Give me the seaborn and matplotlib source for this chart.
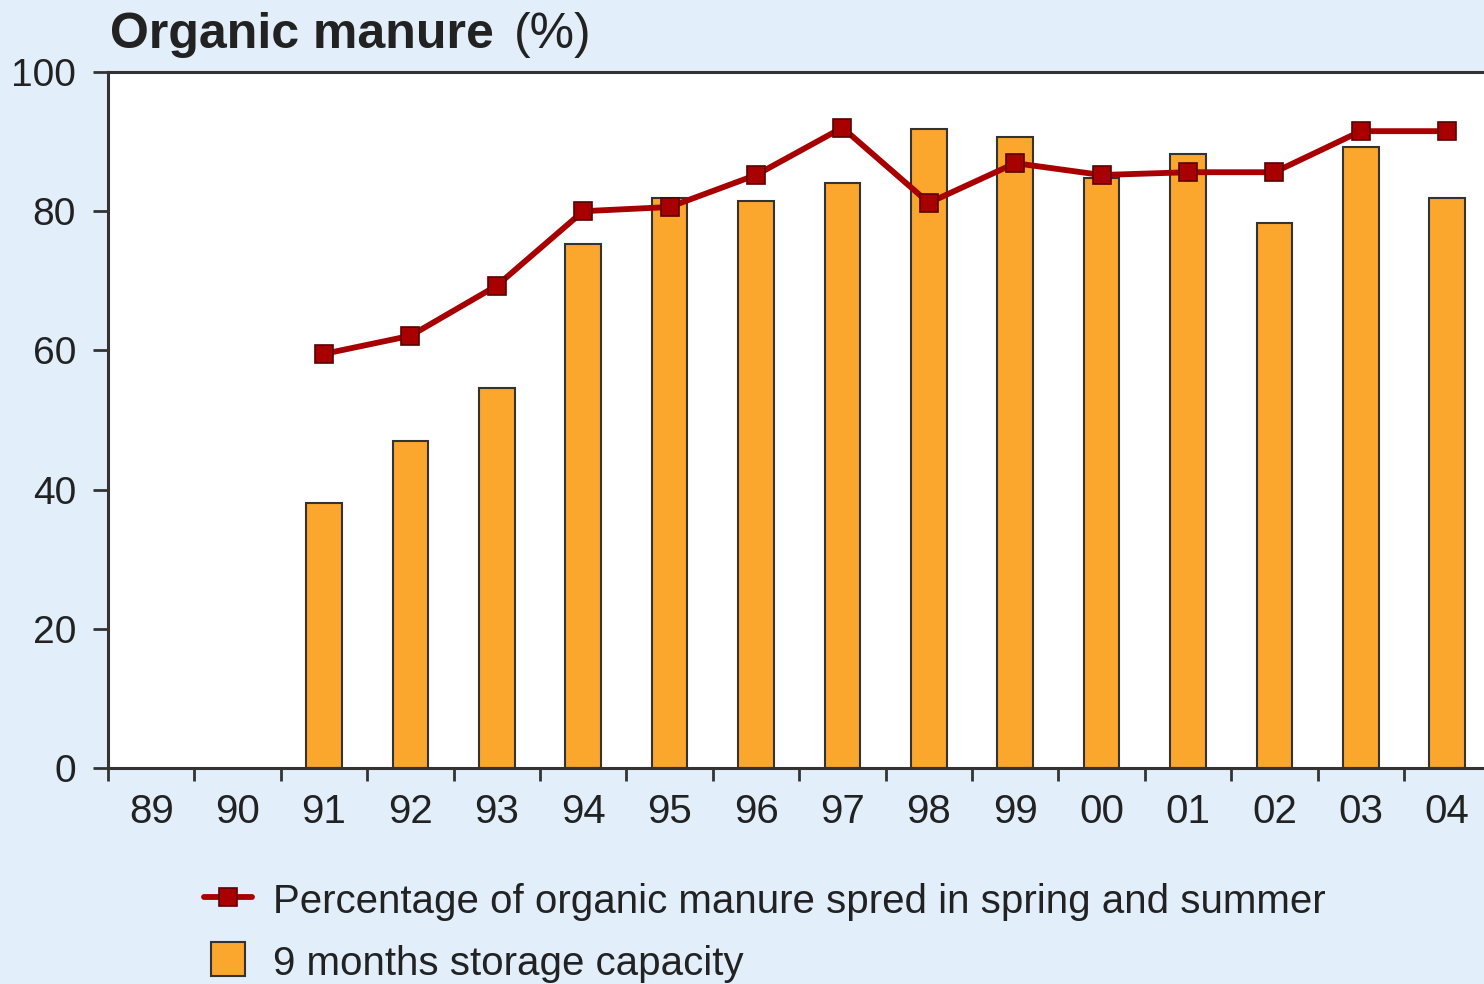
import numpy as np, pandas as pd
import seaborn as sns
import matplotlib.pyplot as plt
from matplotlib.lines import Line2D

years = ['89', '90', '91', '92', '93', '94', '95', '96', '97', '98', '99', '00', '01', '02', '03', '04']
storage = [np.nan, np.nan, 38.1, 47.0, 54.6, 75.3, 81.9, 81.5, 84.1, 91.8, 90.7, 84.8, 88.2, 78.3, 89.2, 81.9]
spread = [np.nan, np.nan, 59.5, 62.1, 69.3, 80.0, 80.6, 85.2, 92.0, 81.2, 86.9, 85.2, 85.6, 85.6, 91.5, 91.5]

bg = '#e2eefa'
orange = '#fba62c'
red = '#a80000'
dark = '#333333'

sns.set_style('white')
plt.rcParams['font.family'] = ['Liberation Sans', 'DejaVu Sans']

df = pd.DataFrame(dict(year=years, storage=storage, spread=spread))

fig = plt.figure(figsize=(14.84, 9.84), dpi=100, facecolor=bg)
ax = fig.add_axes([108/1484, 216/984, 1376/1484, 696/984])
ax.set_facecolor('white')

sns.barplot(data=df, x='year', y='storage', order=years, color=orange, width=0.41,
            saturation=1, edgecolor=dark, linewidth=1.5, ax=ax)
ax.plot(np.arange(len(years)), df.spread, color=red, lw=4.2, marker='s', ms=12.5,
        mec='#5a0000', mew=1.2, zorder=5)

ax.set_yticks(range(0, 101, 20))
ax.tick_params(axis='y', direction='out', length=11, width=2, color=dark,
               labelsize=28, labelcolor='#222222', pad=12, left=True)
ax.set_xticks(np.arange(-0.5, 15, 1))
ax.set_xticklabels([])
ax.set_xticks(np.arange(len(years)), minor=True)
ax.set_xticklabels(years, minor=True)
ax.tick_params(axis='x', which='major', direction='out', length=9, width=2, color=dark, bottom=True)
ax.tick_params(axis='x', which='minor', length=0, labelsize=29, labelcolor='#222222', pad=18)
# limits after ticks so set_xticks can't widen them
ax.set_xlim(-0.5, -0.5 + 1376/86.4)
ax.set_ylim(0, 100)
ax.set_xlabel('')
ax.set_ylabel('')
for s in ['left', 'bottom', 'top']:
    ax.spines[s].set_visible(True)
    ax.spines[s].set_color(dark)
    ax.spines[s].set_linewidth(2.2)
ax.spines['right'].set_visible(False)

fig.text(110/1484, 1 - 48/984, 'Organic manure', fontsize=36, fontweight='bold', color='#222222')
fig.text(514/1484, 1 - 48/984, '(%)', fontsize=36, color='#222222')

handles = [Line2D([], [], color=red, lw=4.2, marker='s', ms=12.5, mec='#5a0000', mew=1.2),
           Line2D([], [], ls='none', marker='s', ms=25, mfc=orange, mec=dark, mew=1.5)]
labels = ['Percentage of organic manure spred in spring and summer', '9 months storage capacity']
fig.legend(handles, labels, loc='upper left', bbox_to_anchor=(188/1484, 1 - 865/984),
           frameon=False, fontsize=29, handlelength=1.2, handleheight=1.0,
           handletextpad=0.5, labelspacing=0.55, borderaxespad=0, labelcolor='#222222')

plt.savefig('out.png', dpi=100, facecolor=bg)
